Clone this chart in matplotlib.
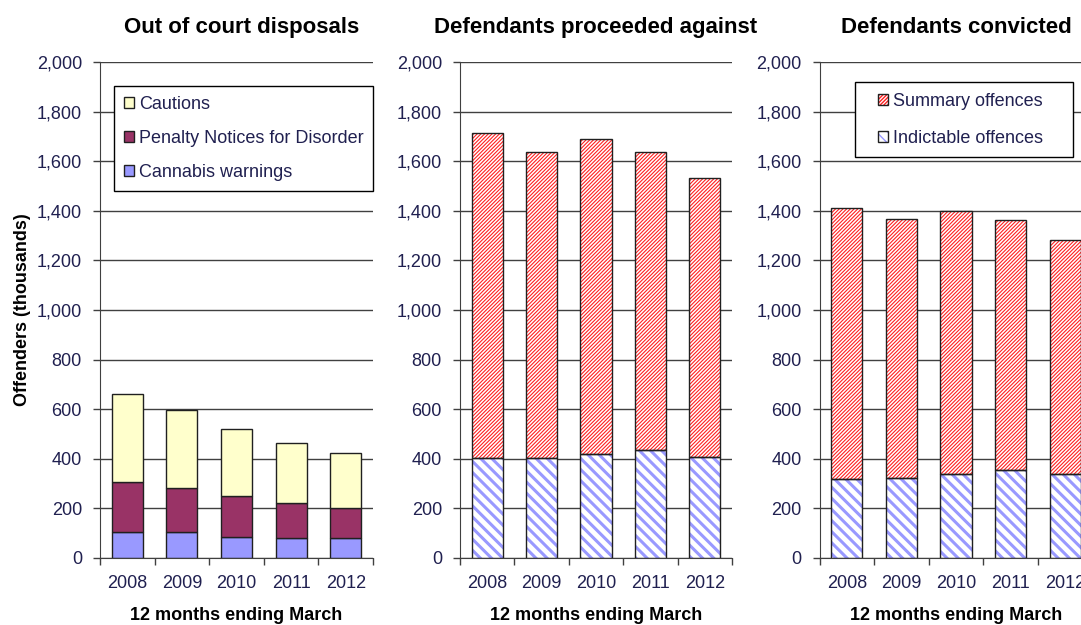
import matplotlib.pyplot as plt
from matplotlib.patches import Patch, Rectangle

# ── Data (thousands) ──────────────────────────────────────
years = ['2008', '2009', '2010', '2011', '2012']

cannabis = [105, 105, 86, 82, 82]
pnd      = [200, 177, 163, 140, 121]
cautions = [356, 316, 271, 240, 221]

proc_indictable = [405, 405, 418, 437, 409]
proc_summary    = [1308, 1233, 1271, 1201, 1123]

conv_indictable = [318, 323, 337, 355, 337]
conv_summary    = [1095, 1043, 1061, 1007, 946]

yticks = list(range(0, 2001, 200))

# ── Style ─────────────────────────────────────────────────
plt.rcParams['font.family'] = ['Liberation Sans', 'DejaVu Sans']
TXT = '#202050'
GRID = '#404040'
FS = 13
BW = 0.57
RED = '#ff2020'
BLUE = '#9999ff'
RED_H, RED_LW = '/' * 9, 0.8
BLUE_H, BLUE_LW = '\\' * 3, 2.2

fig = plt.figure(figsize=(10.81, 6.25), dpi=100)
W, H = 1081, 625


def make_ax(left_px, width_px):
    ax = fig.add_axes([left_px / W, 1 - 558 / H, width_px / W, 496 / H])
    ax.set_xlim(-0.5, 4.5)
    ax.set_ylim(0, 2000)
    ax.set_yticks(yticks)
    ax.set_yticklabels([f'{v:,}' for v in yticks], color=TXT, fontsize=FS)
    ax.tick_params(axis='y', length=5, width=1, color=GRID, pad=8)
    ax.yaxis.grid(True, color=GRID, linewidth=1)
    ax.set_axisbelow(True)
    ax.set_xticks([i - 0.5 for i in range(6)])
    ax.set_xticklabels([''] * 6)
    ax.set_xticks(range(5), minor=True)
    ax.set_xticklabels(years, minor=True, color=TXT, fontsize=FS)
    ax.tick_params(axis='x', which='major', length=5, width=1, color=GRID)
    ax.tick_params(axis='x', which='minor', length=0, pad=12)
    for s in ['top', 'right']:
        ax.spines[s].set_visible(False)
    ax.spines['left'].set_color(GRID)
    ax.spines['bottom'].set_color(GRID)
    ax.set_xlabel('12 months ending March', fontsize=FS, fontweight='bold',
                  labelpad=11)
    return ax


def hatched(ax, vals, bottom, color, hatch, hlw):
    with plt.rc_context({'hatch.linewidth': hlw}):
        bars = ax.bar(range(5), vals, BW, bottom=bottom, color='white',
                      edgecolor=color, hatch=hatch, linewidth=0, zorder=2)
    for b in bars:
        if hasattr(b, 'set_hatch_linewidth'):
            b.set_hatch_linewidth(hlw)
    ax.bar(range(5), vals, BW, bottom=bottom, fill=False,
           edgecolor='#202020', linewidth=1, zorder=3)


def hatch_handle(color, hatch, hlw):
    with plt.rc_context({'hatch.linewidth': hlw}):
        p = Patch(facecolor='white', edgecolor=color, hatch=hatch, linewidth=0)
    if hasattr(p, 'set_hatch_linewidth'):
        p.set_hatch_linewidth(hlw)
    return (p, Patch(fill=False, edgecolor='#202020', linewidth=1))


# ── Panel 1: Out of court disposals ──────────────────────
ax1 = make_ax(100, 273)
b_cw = ax1.bar(range(5), cannabis, BW, color='#9999ff', edgecolor='#202020',
               linewidth=1, zorder=2)
bot = list(cannabis)
b_pnd = ax1.bar(range(5), pnd, BW, bottom=bot, color='#993366',
                edgecolor='#202020', linewidth=1, zorder=2)
bot = [a + b for a, b in zip(bot, pnd)]
b_cau = ax1.bar(range(5), cautions, BW, bottom=bot, color='#ffffcc',
                edgecolor='#202020', linewidth=1, zorder=2)
ax1.set_title('Out of court disposals', fontsize=16, fontweight='bold', pad=21,
              x=0.52)
ax1.set_ylabel('Offenders (thousands)', fontsize=FS, fontweight='bold',
               labelpad=4)
leg1 = ax1.legend([b_cau, b_pnd, b_cw],
                  ['Cautions', 'Penalty Notices for Disorder', 'Cannabis warnings'],
                  loc='upper left', bbox_to_anchor=(0.05, 0.952),
                  borderaxespad=0, fontsize=FS, frameon=True, fancybox=False,
                  edgecolor='black', framealpha=1, handlelength=0.55,
                  handleheight=0.55, handletextpad=0.3, labelspacing=0.95,
                  borderpad=0.55)
leg1.get_frame().set_linewidth(1)
for t in leg1.get_texts():
    t.set_color(TXT)

# ── Panel 2: Defendants proceeded against ────────────────
ax2 = make_ax(460, 272)
hatched(ax2, proc_indictable, 0, BLUE, BLUE_H, BLUE_LW)
hatched(ax2, proc_summary, proc_indictable, RED, RED_H, RED_LW)
ax2.set_title('Defendants proceeded against', fontsize=16, fontweight='bold',
              pad=21)

# ── Panel 3: Defendants convicted ────────────────────────
ax3 = make_ax(819.5, 273)
hatched(ax3, conv_indictable, 0, BLUE, BLUE_H, BLUE_LW)
hatched(ax3, conv_summary, conv_indictable, RED, RED_H, RED_LW)
ax3.set_title('Defendants convicted', fontsize=16, fontweight='bold', pad=21)
ax3.add_patch(Rectangle((0.13, 0.808), 0.8, 0.152, transform=ax3.transAxes,
                        facecolor='white', edgecolor='black', linewidth=1,
                        zorder=4, clip_on=False))
leg3 = ax3.legend([hatch_handle(RED, RED_H, RED_LW),
                   hatch_handle(BLUE, BLUE_H, BLUE_LW)],
                  ['Summary offences', 'Indictable offences'],
                  loc='upper left', bbox_to_anchor=(0.2, 0.945),
                  borderaxespad=0, fontsize=FS, frameon=False,
                  handlelength=0.55, handleheight=0.55, handletextpad=0.3,
                  labelspacing=1.13, borderpad=0.2)
leg3.set_zorder(5)
for t in leg3.get_texts():
    t.set_color(TXT)

fig.savefig('out.png', dpi=100)
